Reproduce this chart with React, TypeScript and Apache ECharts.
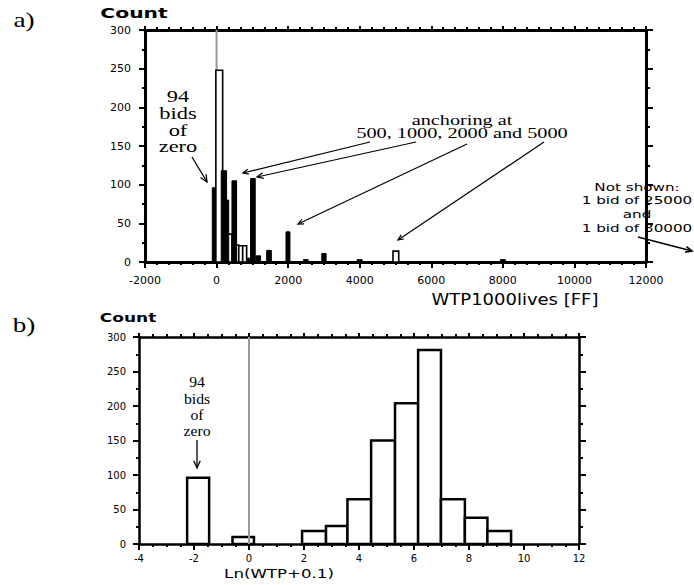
import React, { useEffect, useRef } from "react";
import * as echarts from "echarts";

// Panel a: WTP for 1000 lives [FF] — histogram bins (start, end, count)
const aOpenStart = [-20, 265, 490, 620, 730, 4930];
const aOpenEnd = [170, 430, 620, 730, 840, 5090];
const aOpenCount = [248, 36, 22, 21, 21, 14];

const aFillStart = [-120, 130, 210, 430, 840, 950, 1100, 1400, 1940, 2430, 2940, 3930, 7930];
const aFillEnd = [-40, 280, 340, 560, 930, 1080, 1230, 1530, 2050, 2560, 3060, 4070, 8070];
const aFillCount = [96, 118, 80, 105, 5, 108, 8, 15, 39, 3, 11, 3, 3];

// Panel b: Ln(WTP+0.1) histogram
const bStart = [-2.25, -0.6, 1.93, 2.8, 3.58, 4.44, 5.31, 6.15, 6.98, 7.85, 8.67];
const bEnd = [-1.45, 0.18, 2.8, 3.58, 4.44, 5.31, 6.15, 6.98, 7.85, 8.67, 9.53];
const bCount = [96, 10, 19, 26, 65, 150, 204, 281, 65, 38, 19];

const aXTicks = { min: -2000, max: 12000, interval: 2000 };
const bXTicks = { min: -4, max: 12, interval: 2 };
const yTicks = { min: 0, max: 300, interval: 50 };

const SANS = "DejaVu Sans";
const SERIF = "Liberation Serif";

function arrow(x1: number, y1: number, x2: number, y2: number, size: number, lw: number) {
  const ang = Math.atan2(y2 - y1, x2 - x1);
  const a1 = ang + Math.PI - 0.42;
  const a2 = ang + Math.PI + 0.42;
  return [
    { type: "line", silent: true, shape: { x1, y1, x2, y2 }, style: { stroke: "#000", lineWidth: lw } },
    {
      type: "polyline",
      silent: true,
      shape: {
        points: [
          [x2 + size * Math.cos(a1), y2 + size * Math.sin(a1)],
          [x2, y2],
          [x2 + size * Math.cos(a2), y2 + size * Math.sin(a2)],
        ],
      },
      style: { stroke: "#000", fill: "none", lineWidth: lw },
    },
  ];
}

function txt(
  text: string,
  x: number,
  y: number,
  size: number,
  family: string,
  sx: number,
  weight: string = "normal",
  lineHeight?: number
) {
  return {
    type: "text",
    silent: true,
    x,
    y,
    scaleX: sx,
    style: {
      text,
      x: 0,
      y: 0,
      textAlign: "center",
      textVerticalAlign: "middle",
      fontSize: size,
      fontFamily: family,
      fontWeight: weight,
      lineHeight: lineHeight ?? Math.round(size * 1.2),
      fill: "#000",
    },
  };
}

const plain = (v: number) => String(v);

function makeXAxis(gridIndex: number, ticks: any, position: string, showLabel: boolean, lw: number, fontSize: number, margin: number, minorSplit: number) {
  return {
    type: "value",
    gridIndex,
    position,
    min: ticks.min,
    max: ticks.max,
    interval: ticks.interval,
    axisLine: { show: true, onZero: false, lineStyle: { color: "#000", width: lw } },
    axisTick: { show: true, inside: false, length: position === "top" ? 4 : 6, lineStyle: { color: "#000", width: 2 } },
    minorTick: { show: true, splitNumber: minorSplit, length: 3, lineStyle: { color: "#000", width: 2 } },
    splitLine: { show: false },
    minorSplitLine: { show: false },
    axisLabel: { show: showLabel, color: "#000", fontFamily: SANS, fontSize, margin, formatter: plain },
  };
}

function makeYAxis(gridIndex: number, position: string, showLabel: boolean, lw: number, fontSize: number, margin: number) {
  return {
    type: "value",
    gridIndex,
    position,
    min: yTicks.min,
    max: yTicks.max,
    interval: yTicks.interval,
    axisLine: { show: true, onZero: false, lineStyle: { color: "#000", width: lw } },
    axisTick: { show: true, inside: false, length: position === "right" ? 7 : 6, lineStyle: { color: "#000", width: 2 } },
    minorTick: { show: true, splitNumber: 2, length: position === "right" ? 4 : 3, lineStyle: { color: "#000", width: 2 } },
    splitLine: { show: false },
    minorSplitLine: { show: false },
    axisLabel: { show: showLabel, color: "#000", fontFamily: SANS, fontSize, margin, formatter: plain },
  };
}

function rectSeries(xIdx: number, yIdx: number, data: number[][], fill: string, lw: number, z: number) {
  return {
    type: "custom",
    xAxisIndex: xIdx,
    yAxisIndex: yIdx,
    z,
    clip: false,
    silent: true,
    data,
    encode: { x: [0, 1], y: 2 },
    renderItem: (params: any, api: any) => {
      const p1 = api.coord([api.value(0), api.value(2)]);
      const p2 = api.coord([api.value(1), 0]);
      return {
        type: "rect",
        shape: { x: p1[0], y: p1[1], width: p2[0] - p1[0], height: p2[1] - p1[1] },
        style: { fill, stroke: "#000", lineWidth: lw },
      };
    },
  };
}

export default function App() {
  const ref = useRef<HTMLDivElement>(null);

  useEffect(() => {
    if (!ref.current) return;
    const chart = echarts.init(ref.current, null, { renderer: "svg" });

    const aOpen = aOpenStart.map((s, i) => [s, aOpenEnd[i], aOpenCount[i]]);
    const aFill = aFillStart.map((s, i) => [s, aFillEnd[i], aFillCount[i]]);
    const bData = bStart.map((s, i) => [s, bEnd[i], bCount[i]]);

    const graphics: any[] = [
      txt("a)", 24, 20, 21, SERIF, 1.3),
      txt("b)", 24, 325, 21, SERIF, 1.3),
      txt("Count", 134, 13, 14, SANS, 1.45, "bold"),
      txt("Count", 128, 318, 12, SANS, 1.42, "bold"),
      txt("WTP1000lives [FF]", 515, 300, 15, SANS, 1.2),
      txt("Ln(WTP+0.1)", 279, 574, 13, SANS, 1.28),
      txt("94\nbids\nof\nzero", 178, 122, 16, SERIF, 1.4, "normal", 16.7),
      txt("anchoring at\n500, 1000, 2000 and 5000", 462, 126.5, 15, SERIF, 1.35, "normal", 13.5),
      txt("Not shown:\n1 bid of 25000\nand\n1 bid of 30000", 637, 207.5, 11, SANS, 1.38, "normal", 13.7),
      txt("94\nbids\nof\nzero", 197, 406.5, 15, SERIF, 1.05, "normal", 16.3),
      ...arrow(192, 157, 207, 182, 8, 1.3),
      ...arrow(370, 142, 243, 173, 6, 1.2),
      ...arrow(416, 142, 257, 177, 7, 1.2),
      ...arrow(467, 144, 298, 224, 6, 1.2),
      ...arrow(544, 142, 398, 240, 6, 1.2),
      ...arrow(638, 237, 692, 251, 7, 1.6),
      ...arrow(197, 440, 197, 468, 8, 1.3),
    ];

    chart.setOption({
      animation: false,
      backgroundColor: "#fff",
      grid: [
        { left: 145, top: 30, width: 501, height: 232 },
        { left: 139, top: 337, width: 440, height: 207 },
      ],
      xAxis: [
        makeXAxis(0, aXTicks, "bottom", true, 3, 11, 13, 6),
        makeXAxis(0, aXTicks, "top", false, 3, 11, 13, 6),
        makeXAxis(1, bXTicks, "bottom", true, 2.5, 10, 9, 4),
        makeXAxis(1, bXTicks, "top", false, 2.5, 10, 9, 4),
      ],
      yAxis: [
        makeYAxis(0, "left", true, 3, 11, 14),
        makeYAxis(0, "right", false, 3, 11, 14),
        makeYAxis(1, "left", true, 2.5, 10, 13),
        makeYAxis(1, "right", false, 2.5, 10, 13),
      ],
      series: [
        {
          type: "line",
          xAxisIndex: 0,
          yAxisIndex: 0,
          z: 1,
          silent: true,
          symbol: "none",
          data: [[0, 0], [0, 300]],
          lineStyle: { color: "#999", width: 2 },
        },
        rectSeries(0, 0, aOpen, "#fff", 1.6, 2),
        rectSeries(0, 0, aFill, "#000", 1, 3),
        rectSeries(2, 2, bData, "#fff", 2.5, 2),
        {
          type: "line",
          xAxisIndex: 2,
          yAxisIndex: 2,
          z: 4,
          silent: true,
          symbol: "none",
          data: [[0, 0], [0, 300]],
          lineStyle: { color: "#999", width: 2 },
        },
      ],
      graphic: graphics,
    });

    return () => chart.dispose();
  }, []);

  return (
    <div
      ref={ref}
      style={{ position: "absolute", left: 0, top: 0, width: 694, height: 585, background: "#fff" }}
    />
  );
}
